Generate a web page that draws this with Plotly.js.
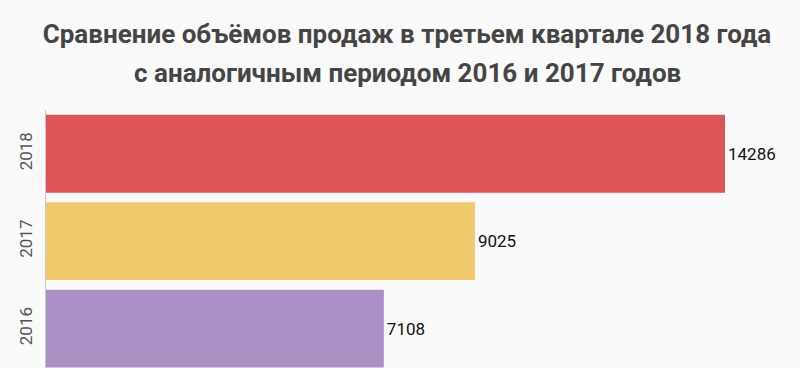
<!DOCTYPE html>
<html>
<head>
<meta charset="utf-8">
<script src="https://cdn.plot.ly/plotly-3.0.1.min.js"></script>
<style>html,body{margin:0;padding:0;background:#fafafa;}#chart{width:800px;height:368px;}</style>
</head>
<body>
<div id="chart"></div>
<script>
var years = ['2016', '2017', '2018'];
var sales = [7108, 9025, 14286];
var colors = ['#AB90C6', '#EFC96A', '#DE5558'];
var titleLines = ['Сравнение объёмов продаж в третьем квартале 2018 года', 'с аналогичным периодом 2016 и 2017 годов'];

var trace = {
  type: 'bar',
  orientation: 'h',
  y: years,
  x: sales,
  width: 0.89,
  marker: {color: colors},
  text: sales.map(String),
  textposition: 'outside',
  cliponaxis: false,
  textfont: {family: 'Roboto', size: 17, color: '#111'},
  hoverinfo: 'none'
};

var titleFont = {family: 'Roboto', size: 26, color: '#454545', weight: 'bold'};
var titleX = (407 - 46) / 754;

var layout = {
  width: 800,
  height: 368,
  paper_bgcolor: '#fafafa',
  plot_bgcolor: '#fafafa',
  margin: {l: 46, r: 0, t: 110, b: 0, pad: 0},
  showlegend: false,
  title: {
    text: titleLines[0],
    font: titleFont,
    x: titleX, xanchor: 'center', xref: 'paper',
    y: 1 - 34 / 368, yanchor: 'middle', yref: 'container'
  },
  annotations: [{
    text: titleLines[1],
    font: titleFont,
    showarrow: false,
    xref: 'paper', yref: 'paper',
    x: titleX, xanchor: 'center',
    y: (368 - 73) / 258, yanchor: 'middle'
  }],
  xaxis: {
    range: [0, 15864],
    visible: false,
    fixedrange: true
  },
  yaxis: {
    type: 'category',
    range: [-0.45, 2.5],
    showline: true,
    linecolor: '#c8c8c8',
    linewidth: 1,
    showgrid: false,
    zeroline: false,
    ticks: '',
    tickangle: -90,
    ticklabelstandoff: 6,
    tickfont: {family: 'Roboto', size: 17, color: '#555'},
    fixedrange: true
  }
};

Plotly.newPlot('chart', [trace], layout, {displayModeBar: false, staticPlot: true});
</script>
</body>
</html>
